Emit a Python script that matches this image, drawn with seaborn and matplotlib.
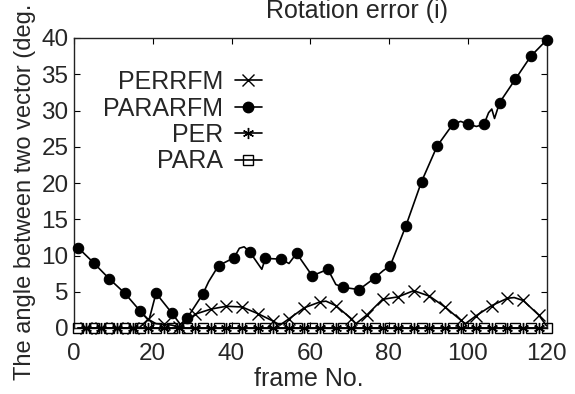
import numpy as np
import matplotlib
matplotlib.use("Agg")
import matplotlib.pyplot as plt
from matplotlib.lines import Line2D
import seaborn as sns

# ---------------- data ----------------
title = "Rotation error (i)"
xlabel = "frame No."
ylabel = "The angle between two vector (deg."
series_names = ["PERRFM", "PARARFM", "PER", "PARA"]
xticks = [0, 20, 40, 60, 80, 100, 120]
yticks = [0, 5, 10, 15, 20, 25, 30, 35, 40]

# frames carrying circle / square markers
grid_a = [1, 4.97, 8.93, 12.9, 16.87, 20.83, 24.8, 28.77, 32.73, 36.7, 40.67,
          44.63, 48.6, 52.57, 56.53, 60.5, 64.47, 68.43, 72.4, 76.37, 80.33,
          84.3, 88.27, 92.23, 96.2, 100.17, 104.13, 108.1, 112.07, 116.03, 120]
# frames carrying cross / star markers
grid_b = [2.98, 6.95, 10.92, 14.88, 18.85, 22.82, 26.78, 30.75, 34.72, 38.68,
          42.65, 46.62, 50.58, 54.55, 58.52, 62.48, 66.45, 70.42, 74.38, 78.35,
          82.32, 86.28, 90.25, 94.22, 98.18, 102.15, 106.12, 110.08, 114.05, 118.02]

pararfm_marks = [11.1, 9.0, 6.8, 4.8, 2.3, 4.8, 2.1, 1.4, 4.7, 8.6, 9.7,
                 10.5, 9.6, 9.5, 10.3, 7.2, 8.1, 5.6, 5.3, 6.9, 8.6,
                 14.1, 20.2, 25.1, 28.1, 28.1, 28.1, 31.1, 34.3, 37.5, 39.7]
pararfm_extra_x = [19.0, 27.0, 34.2, 42.0, 43.2, 47.7, 54.6, 66.5, 78.5,
                   98.2, 102.2, 105.3, 106.1, 106.8]
pararfm_extra_y = [1.0, 0.5, 6.4, 11.0, 11.2, 8.1, 8.9, 6.0, 7.9,
                   28.5, 27.8, 29.7, 30.2, 28.9]

perrfm_marks = [0.0, 0.0, 0.0, 0.0, 1.2, 0.5, 0.1, 1.9, 2.6, 3.0,
                2.9, 2.0, 0.95, 1.25, 2.8, 3.6, 3.1, 1.3, 1.8, 3.95,
                4.3, 5.15, 4.4, 2.9, 1.1, 1.7, 3.1, 4.1, 3.8, 1.8]
perrfm_extra_x = [1.0, 16.5, 20.8, 24.8, 52.3, 64.0, 71.6, 99.4, 111.8, 120.0]
perrfm_extra_y = [0.0, 0.0, 0.6, 0.4, 0.4, 3.7, 0.6, 0.6, 4.2, 0.3]

per_values = [0.0] * len(grid_b)
para_values = [0.0] * len(grid_a)


def merge(mx, my, ex, ey):
    x = np.array(list(mx) + list(ex), dtype=float)
    y = np.array(list(my) + list(ey), dtype=float)
    order = np.argsort(x, kind="stable")
    pos = np.empty_like(order)
    pos[order] = np.arange(len(order))
    marks = sorted(int(pos[i]) for i in range(len(mx)))
    return x[order], y[order], marks


sns.set_theme(style="white")
plt.rcParams["font.family"] = ["Liberation Sans", "DejaVu Sans"]

W, H = 575, 394
fig = plt.figure(figsize=(W / 100, H / 100), dpi=100)
fig.patch.set_facecolor("white")
ax = fig.add_axes([74 / W, 1 - 328 / H, (546.5 - 74) / W, (328 - 38) / H])
ax.set_facecolor("white")

FS = 18
FT = 17.5
LW = 1.2
star = (6, 2, 0)

common = dict(ax=ax, color="black", linewidth=LW, legend=False,
              estimator=None, sort=True, clip_on=False)

x1, y1, m1 = merge(grid_b, perrfm_marks, perrfm_extra_x, perrfm_extra_y)
sns.lineplot(x=x1, y=y1, marker="x", markevery=m1, markersize=8,
             markeredgecolor="black", markeredgewidth=1.0, zorder=3, **common)

x2, y2, m2 = merge(grid_a, pararfm_marks, pararfm_extra_x, pararfm_extra_y)
sns.lineplot(x=x2, y=y2, marker="o", markevery=m2, markersize=7.5,
             markeredgecolor="black", markerfacecolor="black",
             markeredgewidth=0.8, zorder=4, **common)

sns.lineplot(x=grid_b, y=per_values, marker=star, markersize=8,
             markeredgecolor="black", markeredgewidth=1.0, zorder=5, **common)

sns.lineplot(x=grid_a, y=para_values, marker="s", markersize=7.5,
             markeredgecolor="black", markerfacecolor="none",
             markeredgewidth=1.0, zorder=6, **common)

ax.set_xlim(0, 120)
ax.set_ylim(0, 40)
ax.set_xticks(xticks)
ax.set_yticks(yticks)
ax.set_xticklabels([str(t) for t in xticks], fontsize=FT)
ax.set_yticklabels([str(t) for t in yticks], fontsize=FT)
ax.tick_params(axis="both", direction="in", length=4, width=0.8, color="black",
               top=True, right=True, bottom=True, left=True)
ax.tick_params(axis="x", pad=11)
ax.tick_params(axis="y", pad=4)
ax.set_xlabel("")
ax.set_ylabel("")
for s in ax.spines.values():
    s.set_visible(True)
    s.set_color("#222222")
    s.set_linewidth(1.0)

fig.text(357 / W, 1 - 18 / H, title, ha="center", va="baseline", fontsize=FS)
fig.text(309 / W, 1 - 386 / H, xlabel, ha="center", va="baseline", fontsize=FS)
fig.text(25 / W, 1 - 380 / H, ylabel, ha="center", va="bottom", rotation=90,
         fontsize=17)

handles = [
    Line2D([], [], color="black", lw=LW, marker="x", ms=8, mew=1.0),
    Line2D([], [], color="black", lw=LW, marker="o", ms=7.5, mec="black", mfc="black"),
    Line2D([], [], color="black", lw=LW, marker=star, ms=8, mew=1.0),
    Line2D([], [], color="black", lw=LW, marker="s", ms=7.5, mfc="none", mew=1.0),
]
ax.legend(handles, series_names, loc="upper right",
          bbox_to_anchor=(262 / W, 1 - 70 / H), bbox_transform=fig.transFigure,
          frameon=False, fontsize=FS, markerfirst=False, handlelength=1.1,
          handletextpad=0.45, labelspacing=0.1, borderpad=0, borderaxespad=0)

fig.savefig("out.png", dpi=100, facecolor="white")
